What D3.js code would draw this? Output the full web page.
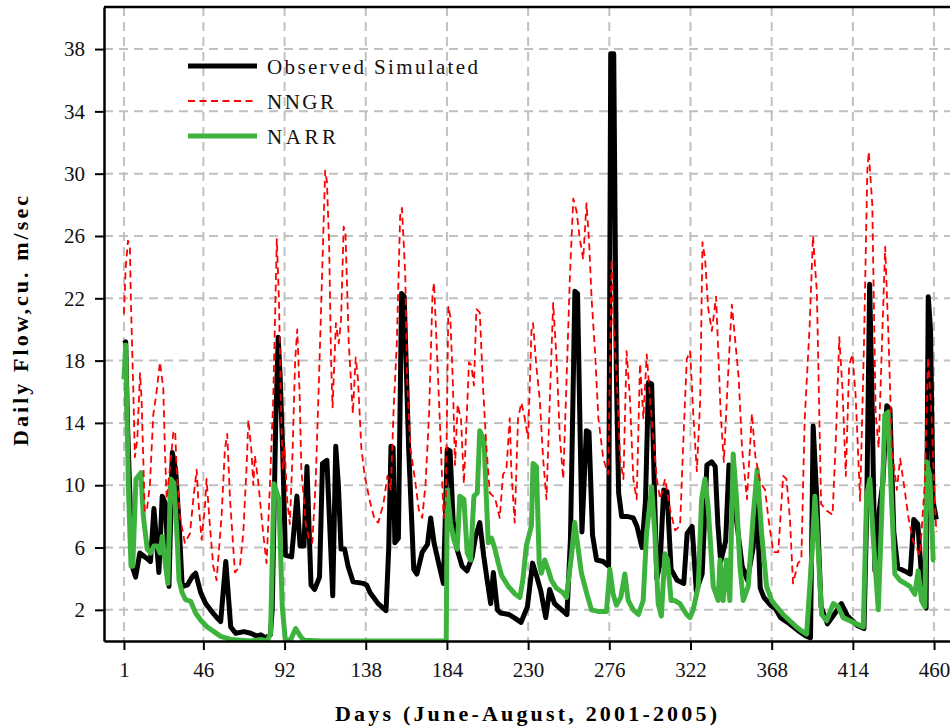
<!DOCTYPE html>
<html>
<head>
<meta charset="utf-8">
<script src="https://cdn.jsdelivr.net/npm/d3@7"></script>
<style>
  body { margin: 0; background: #fff; }
  text { font-family: "Liberation Serif", "Times New Roman", serif; }
</style>
</head>
<body>
<svg id="chart" width="950" height="727"></svg>
<script>
// ticks
const xTicks = [1, 46, 92, 138, 184, 230, 276, 322, 368, 414, 460];
const yTicks = [2, 6, 10, 14, 18, 22, 26, 30, 34, 38];

// Observed Simulated (black)
const obsDays = [1, 2, 3, 5.7, 7.6, 10, 14, 16, 18, 20.8, 22.7, 24.6, 26.5, 28.4, 30.3, 32.2, 34, 37, 39.8, 41.6, 44.5, 47.3, 50, 53.9, 55.8, 58.7, 61.5, 64.3, 69, 72.8, 76.6, 78.5, 81.3, 84, 85, 86, 87, 88.4, 89.5, 91, 92.5, 96, 99, 100.8, 103, 104.7, 107, 109, 111.8, 113.5, 116, 119.3, 121, 122.5, 124, 126, 128, 130.8, 136.5, 138.5, 140.5, 145, 149.5, 151, 152.3, 153.5, 154.5, 156.5, 158.3, 159.8, 162.3, 165.2, 167, 170, 173, 174.8, 176.7, 179.5, 182, 184.2, 185.8, 187.5, 189.7, 192.6, 195.4, 198.3, 200.2, 202.6, 204.8, 206.8, 208.8, 210.3, 212.6, 214.4, 219.2, 222, 226, 229.6, 232.5, 235, 237.2, 240, 242.2, 245, 250, 252, 254, 256.5, 258, 260.5, 263, 264.5, 266.5, 268.8, 272.6, 275.6, 276.8, 278.5, 280, 281.3, 283, 286, 289.6, 291.7, 294.5, 296.5, 298.2, 300, 302.9, 304.8, 306.8, 308.7, 311, 314.4, 318.2, 320.1, 322.9, 325.3, 328.6, 331.3, 334, 336, 337.5, 339.1, 341.9, 343.8, 345.8, 348.5, 351.3, 354.2, 357.5, 359.5, 361.5, 363.6, 367.3, 370, 373, 377, 382.6, 387.3, 390, 391.5, 393.5, 396, 399.6, 403.4, 407.5, 411, 416.5, 420.3, 421.8, 423.5, 424.8, 426.5, 429, 431, 433.2, 435, 437.2, 439.4, 443.2, 446.5, 448.5, 450.8, 452.7, 455.5, 456.7, 458, 459.4, 461.3];
const obsFlow = [19.1, 19.2, 14, 4.8, 4.1, 5.65, 5.3, 5.1, 8.5, 4.4, 9.3, 8.8, 3.5, 12.1, 11, 7.6, 3.5, 3.6, 4.15, 4.35, 3.1, 2.4, 2, 1.46, 1.25, 5.1, 0.9, 0.5, 0.6, 0.5, 0.3, 0.4, 0.2, 0.4, 2, 8, 14, 19.5, 17, 12, 5.5, 5.4, 9.3, 6.1, 6.1, 11.2, 3.6, 3.3, 4.1, 11.4, 11.6, 2.9, 12.5, 10, 5.9, 5.9, 4.8, 3.8, 3.7, 3.6, 3.1, 2.4, 1.95, 5.9, 12.5, 12.4, 6.3, 6.6, 22.3, 22.1, 12.4, 4.6, 4.3, 5.7, 6.2, 7.9, 6.3, 4.9, 3.7, 12.3, 12.2, 7.7, 5.9, 4.8, 4.5, 5.4, 6.7, 7.6, 5.5, 3.9, 2.4, 4.4, 2, 1.8, 1.7, 1.5, 1.2, 2.2, 5, 4.1, 3.2, 1.5, 3.3, 2.4, 1.9, 1.7, 6.6, 22.45, 22.3, 7, 13.5, 13.4, 6.8, 5.2, 5.1, 4.8, 37.7, 37.7, 17, 9.5, 8, 8, 7.9, 7.35, 6, 9, 16.6, 16.5, 4, 5, 9.7, 9.6, 4.6, 3.9, 3.7, 6.9, 7.35, 3.2, 4.3, 11.3, 11.5, 11.2, 7.5, 5.1, 6.4, 11.3, 9.9, 7.35, 4.8, 3.9, 6, 9.5, 3.4, 2.8, 2.3, 2.1, 1.5, 1.2, 0.7, 0.33, 0.2, 13.8, 9.3, 2.2, 1.1, 1.7, 2.4, 1.6, 1, 0.8, 8, 22.9, 16, 4.5, 8.4, 10.2, 15.1, 14.9, 7, 4.7, 4.5, 4.3, 7.8, 7.5, 4.5, 2.1, 22.1, 20, 9, 7.8];

// NNGR (red dashed)
const nngrDays = [1, 2, 3.3, 4.4, 4.9, 6.3, 7.2, 8.6, 10.1, 11, 12.8, 14, 15.7, 17.6, 19.5, 21.4, 23.3, 24.2, 25.2, 27.1, 29, 30, 30.8, 32.7, 35.5, 38.4, 40.3, 42.2, 43.1, 45, 46.9, 47.8, 49.7, 51.6, 53.5, 56.3, 58.2, 59.5, 61.1, 63.9, 66.7, 68.6, 70.5, 71.5, 73.3, 74.3, 75.2, 77.1, 79.9, 81.8, 83.7, 85.6, 87.6, 88.8, 90, 91, 92, 93.5, 95, 96.5, 98, 99.2, 100.5, 101.5, 102.5, 104, 106, 107.7, 109.6, 111.5, 113.5, 115, 116, 117.3, 118.3, 119.2, 121.1, 122.7, 124, 125.5, 126.5, 128.4, 130.7, 132.3, 133.6, 135.5, 137.4, 140.3, 143, 145.1, 148, 150.3, 152.2, 153.7, 155.6, 157.5, 158.5, 160.4, 161.4, 163.3, 166.2, 168.1, 170, 171.9, 173.9, 175.8, 176.7, 178.6, 180.6, 182.1, 183.4, 184.8, 185.9, 187.3, 188.6, 190.1, 192, 193.6, 194.9, 196.5, 197.8, 199.3, 200.7, 202.6, 204.5, 206.4, 208.3, 211.2, 213.9, 215.8, 217.7, 219.6, 220.5, 222.4, 224.3, 226.2, 228.1, 230, 231.9, 232.8, 234.7, 236.6, 238.5, 240.4, 242.3, 244.2, 246.1, 248, 249.9, 251.8, 253.7, 255.6, 257.4, 259.3, 261.2, 263.1, 264.6, 266, 267.9, 269.8, 272.6, 275.4, 277.3, 278.3, 280.2, 282.1, 284, 285.8, 287.7, 289.6, 291.5, 293.4, 295.3, 297.2, 299.1, 301, 302.9, 304.8, 307.6, 310.5, 313.3, 316.1, 318, 319.9, 321.8, 323.7, 325.6, 327.5, 328.8, 330.3, 332, 334.1, 336.5, 339.1, 340.9, 342.8, 345.4, 347.5, 349.3, 351.2, 354, 356.8, 358.7, 361.5, 364.3, 366.1, 368.9, 371.7, 374.5, 376.4, 378.3, 380.1, 382.9, 384.8, 386.7, 389.5, 391.4, 393.6, 396, 398.8, 402.5, 404.4, 406.3, 408.1, 410, 411.9, 413.8, 415.6, 418.1, 420.3, 422.2, 423, 425, 426.9, 428.6, 430.5, 432.3, 434.3, 436.1, 438.9, 440.8, 443.6, 445.5, 448.2, 452, 454.8, 456.6, 458.5, 460.4, 461.3];
const nngrFlow = [21, 24, 25.7, 25.3, 22, 16.1, 11.8, 13, 17.2, 15.5, 8.3, 8.4, 10, 14.5, 16, 17.9, 16.2, 12.3, 9.1, 11.2, 13.4, 13.5, 11.2, 8, 6.3, 6.9, 9.1, 11, 9.1, 6.5, 8.65, 10.4, 7.4, 4.8, 3.9, 8, 12.3, 13.3, 9.1, 4.4, 4.8, 6.9, 11.2, 14.2, 12.1, 10, 11.9, 10.2, 6.9, 5, 10, 15.6, 25.8, 22, 15, 11, 12.5, 9, 7.5, 12, 18, 20, 16, 11, 9.7, 7.5, 6.5, 6.3, 10.1, 16.8, 24.4, 30.2, 29.5, 25.3, 18.2, 15, 20.4, 19.1, 20.6, 26.6, 26.2, 19.1, 14.6, 18.2, 16.8, 12.4, 10.6, 9, 7.8, 7.6, 8.8, 10.6, 9.7, 14.6, 19.1, 27.3, 27.8, 23.5, 16.8, 12.4, 10.1, 8.4, 7.9, 10.1, 14.6, 22.2, 23, 17.9, 12.4, 7.9, 9, 21.5, 20.8, 16.8, 11.3, 15.2, 14.2, 10.1, 13.5, 17.9, 17.7, 16.4, 21.3, 21.1, 16.2, 12.4, 9.5, 9.2, 7.9, 10.7, 11, 14.3, 10.9, 7.6, 14.3, 15.3, 14.3, 13, 19.9, 20.4, 17.6, 15.5, 11.7, 9.1, 15.5, 21.7, 18.1, 13, 10.4, 16.8, 23.5, 28.4, 27.6, 25.8, 24.5, 28.1, 25.5, 21.9, 18.6, 14.3, 11.7, 10.7, 24.5, 20.7, 16.8, 11.7, 10.4, 18.6, 15.5, 10.4, 9.1, 17.8, 14.3, 18.4, 15.5, 13, 10.4, 9.1, 10.4, 8.4, 7.1, 7.4, 13, 18.1, 18.6, 14.3, 10.9, 15.5, 25.6, 24.5, 21.4, 19.9, 22.1, 14.6, 11.5, 16, 21.6, 19.1, 16.9, 12.4, 9.1, 14.6, 11.9, 10.2, 9.7, 7.9, 5.7, 5.7, 10.6, 10.4, 7.9, 3.7, 5, 5.2, 14.2, 20.2, 26, 22.4, 8.8, 8.4, 8.1, 13.1, 19.5, 16.2, 10.6, 17.7, 18.4, 15.7, 9, 19.1, 30.2, 31.4, 28, 14.6, 12.4, 19.1, 25.3, 19.1, 12.4, 9.7, 11.7, 9.5, 7.9, 6.4, 5.5, 10.2, 18.2, 14.6, 9, 7];

// NARR (green)
const narrDays = [1, 2, 3.5, 5, 6, 7.8, 10.6, 12, 14.2, 16.1, 18, 19.9, 21.4, 22.7, 24.6, 25.9, 27.4, 29.3, 31.2, 32.2, 34, 35.9, 38.8, 41.6, 44.4, 48.2, 52, 55.8, 61.5, 67, 73, 78.5, 82.2, 84.1, 86, 88.8, 90.7, 92.4, 95.4, 98.3, 101, 103, 113.5, 183.6, 184.2, 186, 187.9, 189.8, 191.3, 193.6, 195.5, 197.4, 199.3, 201.2, 202.6, 205, 207.4, 209.3, 211.2, 213.1, 215, 218.8, 222.7, 225.3, 227, 229, 231.9, 232.8, 234.7, 236.3, 237.5, 239.4, 241.3, 243.2, 246, 249.8, 251.7, 254.5, 256.4, 258.3, 260.2, 263.1, 265.9, 269.7, 274.4, 276.3, 278.2, 280, 282.5, 284.8, 286.7, 289.6, 292.5, 295.2, 297.1, 300, 301.8, 303.7, 305.5, 307.5, 309, 311, 313, 316, 319.8, 321.7, 323.5, 326.4, 328.3, 330.2, 332, 334.9, 337.7, 338.7, 340.5, 342.4, 344.3, 346.2, 348.1, 350, 351.9, 354.7, 357.5, 359.8, 362.3, 365.1, 368, 370.8, 374.5, 378.3, 382.1, 384.9, 387.8, 390.6, 392.5, 394.4, 396.3, 399.1, 402.9, 405.7, 408.5, 412.3, 416.1, 419.9, 421.8, 423.6, 425.5, 428.4, 430.3, 432.1, 434, 435.9, 437.8, 440.6, 443.5, 446.3, 449.1, 451, 452.9, 454.8, 455.8, 457.6, 459.5, 460.5];
const narrFlow = [16.8, 19, 10, 4.8, 4.8, 10.4, 10.8, 8, 5.9, 5.65, 6.1, 6.1, 5.65, 6.7, 4.8, 3.7, 10.4, 10.15, 6.5, 3.9, 3.1, 2.65, 2.55, 1.8, 1.35, 0.9, 0.6, 0.3, 0.1, 0.05, 0, 0.1, 0, 0.5, 10.1, 9.1, 2.2, 0.07, 0.07, 0.8, 0.3, 0.05, 0, 0, 9.7, 7.6, 6.5, 5.9, 9.3, 9.1, 5.65, 5.2, 9.3, 9.5, 13.5, 12.9, 6.3, 6.6, 5.9, 5, 4.2, 3.5, 3, 2.8, 3.9, 6.1, 7.4, 11.4, 11.2, 5, 4.35, 5.2, 4.6, 3.9, 3.4, 3.1, 2.8, 5.4, 7.6, 6, 4.35, 3.1, 2, 1.9, 1.9, 4.6, 3, 2.3, 2.8, 4.3, 2.6, 2, 1.7, 2.6, 6.9, 9.9, 6.9, 2.4, 1.6, 5.6, 5.2, 2.6, 2.6, 2.4, 1.7, 1.5, 2, 3.5, 9.1, 10.4, 8.6, 3.5, 2.6, 5.2, 2.6, 5.2, 2.6, 12, 9.1, 4.8, 2.6, 3.5, 8, 11, 6.9, 3.5, 2.6, 2.2, 1.7, 1.3, 0.9, 0.65, 0.45, 5.2, 9.3, 5.8, 1.7, 1.3, 2.4, 2.2, 1.5, 1.3, 1.1, 0.9, 9.3, 10.4, 6.7, 2, 8, 14.5, 14.7, 9.1, 4.3, 3.9, 3.7, 3.5, 3, 4.5, 2.6, 2.2, 11.5, 10.6, 5.2, 5.2];

const width = 950, height = 727;
const margin = { top: 7, left: 104 };
const plotW = 850, plotH = 634;

const svg = d3.select("#chart");
svg.append("rect").attr("width", width).attr("height", height).attr("fill", "#fff");

const x = d3.scaleLinear().domain([-10.3, 471.3]).range([0, plotW]);
const y = d3.scaleLinear().domain([0, 40.7]).range([plotH, 0]);

const g = svg.append("g").attr("transform", `translate(${margin.left},${margin.top})`);

g.append("clipPath").attr("id", "plot-clip")
    .append("rect").attr("width", plotW).attr("height", plotH);

// grid
const grid = g.append("g").attr("stroke", "#c0c0c0").attr("stroke-width", 2).attr("stroke-dasharray", "9,6");
grid.selectAll("line.v").data(xTicks).join("line")
    .attr("class", "v")
    .attr("x1", d => x(d)).attr("x2", d => x(d))
    .attr("y1", 0).attr("y2", plotH);
grid.selectAll("line.h").data(yTicks).join("line")
    .attr("class", "h")
    .attr("x1", 0).attr("x2", plotW)
    .attr("y1", d => y(d)).attr("y2", d => y(d));

// lines
const line = d3.line().x(d => x(d[0])).y(d => y(d[1]));
const lines = g.append("g").attr("clip-path", "url(#plot-clip)").attr("fill", "none")
    .attr("stroke-linejoin", "round");

lines.append("path")
    .attr("d", line(d3.zip(obsDays, obsFlow)))
    .attr("stroke", "#000").attr("stroke-width", 5);

lines.append("path")
    .attr("d", line(d3.zip(narrDays, narrFlow)))
    .attr("stroke", "#3db33d").attr("stroke-width", 5);

lines.append("path")
    .attr("d", line(d3.zip(nngrDays, nngrFlow)))
    .attr("stroke", "#ff0000").attr("stroke-width", 1.8).attr("stroke-dasharray", "7,4.5");

// axes
const yAxis = g.append("g")
    .call(d3.axisLeft(y).tickValues(yTicks).tickSize(9).tickPadding(10).tickSizeOuter(0));
const xAxis = g.append("g").attr("transform", `translate(0,${plotH})`)
    .call(d3.axisBottom(x).tickValues(xTicks).tickSize(9).tickPadding(12).tickSizeOuter(0));

[xAxis, yAxis].forEach(a => {
    a.select(".domain").attr("stroke", "#000").attr("stroke-width", 2.5);
    a.selectAll(".tick line").attr("stroke", "#000").attr("stroke-width", 2);
    a.selectAll(".tick text")
        .attr("fill", "#111")
        .style("font-family", '"Liberation Serif", "Times New Roman", serif')
        .style("font-size", "21px");
});

// top border
g.append("line").attr("x1", 0).attr("x2", plotW).attr("y1", 0).attr("y2", 0)
    .attr("stroke", "#000").attr("stroke-width", 2.5);

// axis titles
svg.append("text")
    .attr("transform", "translate(28,321) rotate(-90)")
    .attr("text-anchor", "middle")
    .attr("font-weight", "bold")
    .attr("font-size", 22)
    .attr("textLength", 250).attr("lengthAdjust", "spacing")
    .text("Daily Flow,cu. m/sec");

svg.append("text")
    .attr("x", 526).attr("y", 721)
    .attr("text-anchor", "middle")
    .attr("font-weight", "bold")
    .attr("font-size", 22)
    .attr("textLength", 382).attr("lengthAdjust", "spacing")
    .text("Days (June-August, 2001-2005)");

// legend
const legendItems = [
    { label: "Observed Simulated", color: "#000", width: 5, dash: null, len: 211 },
    { label: "NNGR", color: "#ff0000", width: 1.8, dash: "7,4.5", len: 67 },
    { label: "NARR", color: "#3db33d", width: 5, dash: null, len: 69 }
];
const legend = svg.append("g").attr("transform", "translate(188,66)");
legend.selectAll("g").data(legendItems).join("g")
    .attr("transform", (d, i) => `translate(0,${i * 35})`)
    .each(function (d) {
        const item = d3.select(this);
        item.append("line")
            .attr("x1", 0).attr("x2", 69)
            .attr("stroke", d.color).attr("stroke-width", d.width)
            .attr("stroke-dasharray", d.dash);
        item.append("text")
            .attr("x", 79).attr("y", 8)
            .attr("font-size", 21)
            .attr("fill", "#111")
            .attr("textLength", d.len).attr("lengthAdjust", "spacing")
            .text(d.label);
    });
</script>
</body>
</html>
